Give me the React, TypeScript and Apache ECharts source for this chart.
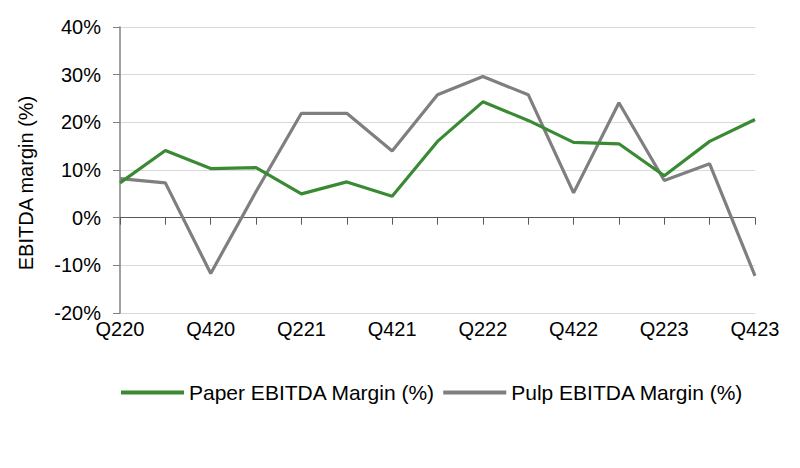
import React, { useEffect, useRef } from "react";
import * as echarts from "echarts";

const categories = ["Q220","Q320","Q420","Q121","Q221","Q321","Q421","Q122","Q222","Q322","Q422","Q123","Q223","Q323","Q423"];
const paperMargin = [7.3, 14.1, 10.3, 10.5, 5.0, 7.5, 4.5, 16.0, 24.3, 20.4, 15.8, 15.5, 8.8, 16.0, 20.6];
const pulpMargin = [8.2, 7.3, -11.7, 5.5, 21.9, 21.9, 14.0, 25.8, 29.6, 25.8, 5.2, 24.1, 7.8, 11.3, -12.2];
const seriesNames = ["Paper EBITDA Margin (%)", "Pulp EBITDA Margin (%)"];
const yTitle = "EBITDA margin (%)";

const FONT = "'Liberation Sans Narrow', 'Arial Narrow', 'Liberation Sans', Arial, sans-serif";

export default function App() {
  const ref = useRef<HTMLDivElement>(null);
  useEffect(() => {
    if (!ref.current) return;
    const chart = echarts.init(ref.current, null, { renderer: "svg" });
    chart.setOption({
      animation: false,
      backgroundColor: "#ffffff",
      textStyle: { fontFamily: FONT },
      grid: { left: 120, right: 45, top: 27, bottom: 155, containLabel: false },
      legend: {
        data: seriesNames,
        top: 377,
        left: 116,
        itemWidth: 63,
        itemHeight: 4,
        itemGap: 8,
        icon: "rect",
        textStyle: { fontFamily: FONT, fontSize: 21, color: "#000" },
      },
      graphic: [
        {
          type: "text",
          x: 26,
          y: 183,
          rotation: Math.PI / 2,
          style: {
            text: yTitle,
            fontFamily: FONT,
            fontSize: 20,
            fill: "#000",
            align: "center",
            verticalAlign: "middle",
          },
        },
      ],
      xAxis: [
        {
          type: "category",
          data: categories,
          boundaryGap: false,
          axisLine: { show: false, onZero: false },
          axisTick: { show: false },
          axisLabel: { interval: 1, fontFamily: FONT, fontSize: 20, color: "#000", margin: 6 },
        },
        {
          type: "category",
          data: categories,
          boundaryGap: false,
          position: "bottom",
          axisLine: { show: true, onZero: true, lineStyle: { color: "#595959", width: 1 } },
          axisTick: { show: true, interval: 0, length: 7, inside: false, lineStyle: { color: "#595959" } },
          axisLabel: { show: false },
        },
      ],
      yAxis: {
        type: "value",
        min: -20,
        max: 40,
        interval: 10,
        axisLine: { show: true, lineStyle: { color: "#808080", width: 1.5 } },
        axisTick: { show: true, length: 7, lineStyle: { color: "#808080" } },
        axisLabel: { formatter: "{value}%", fontFamily: FONT, fontSize: 20, color: "#000", margin: 19 },
        splitLine: { show: true, lineStyle: { color: "#d9d9d9", width: 1 } },
      },
      series: [
        {
          name: seriesNames[0],
          type: "line",
          data: paperMargin,
          xAxisIndex: 0,
          symbol: "none",
          lineStyle: { color: "#3a8a33", width: 3.2 },
          itemStyle: { color: "#3a8a33" },
          z: 3,
        },
        {
          name: seriesNames[1],
          type: "line",
          data: pulpMargin,
          xAxisIndex: 0,
          symbol: "none",
          lineStyle: { color: "#7f7f7f", width: 3.2 },
          itemStyle: { color: "#7f7f7f" },
          z: 2,
        },
      ],
    });
    return () => chart.dispose();
  }, []);
  return <div ref={ref} style={{ position: "fixed", left: 0, top: 0, width: 800, height: 468 }} />;
}
